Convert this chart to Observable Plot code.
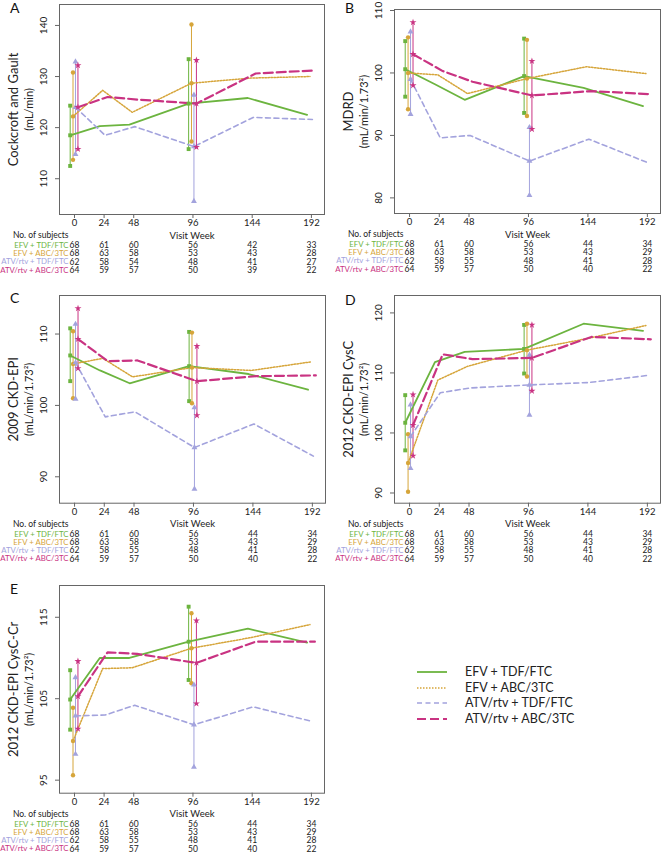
<!DOCTYPE html>
<html><head><meta charset="utf-8">
<script src="https://cdn.jsdelivr.net/npm/d3@7"></script>
<script src="https://cdn.jsdelivr.net/npm/@observablehq/plot@0.6"></script>
<style>
body{margin:0;background:#fff;}
#page{position:relative;width:662px;height:853px;overflow:hidden;font-family:Lato,sans-serif;background:#fff;}
.panel{position:absolute;}
#overlay{position:absolute;left:0;top:0;}
</style></head><body><div id="page"></div>
<script>
// ---- shared ----
const weeks = [0, 24, 48, 96, 144, 192];
const barWeeks = [0, 96];
const groups = ["EFV + TDF/FTC", "EFV + ABC/3TC", "ATV/rtv + TDF/FTC", "ATV/rtv + ABC/3TC"];
const colors = ["#6cb43f", "#d6a53a", "#a3a3dd", "#c93382"];
const jitter = [-3.5, -1.2, 0.8, 2.8];

// ---- Panel A: Cockcroft and Gault ----
const A_mean = [
  [118.5, 120.3, 120.6, 124.7, 125.8, 122.5],
  [122.2, 127.3, 123.0, 128.7, 129.7, 130.0],
  [124.0, 118.5, 120.2, 116.3, 122.0, 121.6],
  [124.0, 126.0, 125.5, 124.7, 130.6, 131.2]];
const A_lo = [[112.5, 115.8], [113.7, 117.3], [114.8, 105.6], [115.8, 116.2]];
const A_hi = [[124.3, 133.4], [130.8, 140.2], [132.9, 126.4], [132.2, 133.2]];
const A_n = [[68, 61, 60, 56, 42, 33], [68, 63, 58, 53, 43, 28], [62, 58, 54, 48, 41, 27], [64, 59, 57, 50, 39, 22]];
const A_yticks = [110, 120, 130, 140];

// ---- Panel B: MDRD ----
const B_mean = [
  [100.6, 98.2, 95.7, 99.5, 97.6, 94.7],
  [100.0, 99.7, 96.7, 99.1, 101.0, 99.9],
  [99.0, 89.6, 90.0, 85.9, 89.4, 85.6],
  [103.0, 100.3, 98.6, 96.4, 97.1, 96.6]];
const B_lo = [[96.2, 93.6], [94.2, 93.1], [93.4, 80.4], [98.0, 91.0]];
const B_hi = [[105.1, 105.5], [105.7, 105.3], [106.6, 91.3], [108.1, 101.9]];
const B_n = [[68, 61, 60, 56, 44, 34], [68, 63, 58, 53, 43, 29], [62, 58, 55, 48, 41, 28], [64, 59, 57, 50, 40, 22]];
const B_yticks = [80, 90, 100, 110];

// ---- Panel C: 2009 CKD-EPI ----
const C_mean = [
  [107.0, 104.9, 103.1, 105.5, 104.4, 102.2],
  [105.8, 106.6, 104.0, 105.3, 104.9, 106.1],
  [106.0, 98.4, 99.1, 94.1, 97.4, 92.9],
  [109.3, 106.2, 106.3, 103.4, 104.1, 104.2]];
const C_lo = [[103.4, 100.6], [101.0, 100.3], [100.9, 88.3], [105.2, 98.6]];
const C_hi = [[110.8, 110.3], [110.4, 110.2], [111.4, 99.7], [113.6, 108.3]];
const C_n = [[68, 61, 60, 56, 44, 34], [68, 63, 58, 53, 43, 29], [62, 58, 55, 48, 41, 28], [64, 59, 57, 50, 40, 22]];
const C_yticks = [90, 100, 110];

// ---- Panel D: 2012 CKD-EPI CysC ----
const D_mean = [
  [101.7, 111.8, 113.5, 114.0, 118.2, 117.0],
  [95.0, 108.8, 111.1, 113.8, 115.7, 117.9],
  [99.4, 106.7, 107.5, 108.0, 108.4, 109.6],
  [101.3, 113.1, 112.3, 112.5, 116.0, 115.6]];
const D_lo = [[97.1, 109.9], [90.2, 109.4], [94.1, 103.0], [96.2, 107.0]];
const D_hi = [[106.3, 118.0], [99.8, 118.2], [104.7, 113.0], [106.4, 118.0]];
const D_n = [[68, 61, 60, 56, 44, 34], [68, 63, 58, 53, 43, 29], [62, 58, 55, 48, 41, 28], [64, 59, 57, 50, 40, 22]];
const D_yticks = [90, 100, 110, 120];

// ---- Panel E: 2012 CKD-EPI CysC-Cr ----
const E_mean = [
  [104.9, 110.0, 110.0, 112.0, 113.6, 111.9],
  [99.8, 108.7, 108.8, 111.2, 112.5, 114.1],
  [102.9, 103.0, 104.2, 101.8, 104.0, 102.2],
  [105.3, 110.7, 110.5, 109.4, 112.0, 112.0]];
const E_lo = [[101.2, 107.3], [95.6, 106.9], [98.2, 96.6], [101.3, 104.4]];
const E_hi = [[108.5, 116.3], [103.9, 115.5], [107.6, 106.7], [109.6, 114.6]];
const E_n = [[68, 61, 60, 56, 44, 34], [68, 63, 58, 53, 43, 29], [62, 58, 55, 48, 41, 28], [64, 59, 57, 50, 40, 22]];
const E_yticks = [95, 105, 115];

const panels = [
  {letter: "A", mean: A_mean, lo: A_lo, hi: A_hi, n: A_n, yticks: A_yticks, ydom: [103.0, 144.1],
   lab1: "Cockcroft and Gault", lab2: "(mL/min)",
   left: 0, top: 0, width: 330, height: 285, mL: 59, mR: 6, mT: 4, mB: 71, lx: 10, ly: 13},
  {letter: "B", mean: B_mean, lo: B_lo, hi: B_hi, n: B_n, yticks: B_yticks, ydom: [77.5, 110.16],
   lab1: "MDRD", lab2: "(mL/min/1.73\u00B2)",
   left: 330, top: 0, width: 332, height: 285, mL: 64, mR: 2, mT: 9, mB: 72, lx: 345, ly: 13},
  {letter: "C", mean: C_mean, lo: C_lo, hi: C_hi, n: C_n, yticks: C_yticks, ydom: [86.3, 115.4],
   lab1: "2009 CKD-EPI", lab2: "(mL/min/1.73\u00B2)",
   left: 0, top: 285, width: 330, height: 290, mL: 59, mR: 5, mT: 10, mB: 72.3, lx: 10, ly: 303},
  {letter: "D", mean: D_mean, lo: D_lo, hi: D_hi, n: D_n, yticks: D_yticks, ydom: [88.3, 122.9],
   lab1: "2012 CKD-EPI CysC", lab2: "(mL/min/1.73\u00B2)",
   left: 330, top: 285, width: 332, height: 290, mL: 64, mR: 2, mT: 10, mB: 72.3, lx: 345, ly: 305},
  {letter: "E", mean: E_mean, lo: E_lo, hi: E_hi, n: E_n, yticks: E_yticks, ydom: [93.4, 118.9],
   lab1: "2012 CKD-EPI CysC-Cr", lab2: "(mL/min/1.73\u00B2)",
   left: 0, top: 575, width: 330, height: 278, mL: 59, mR: 6, mT: 10, mB: 60.3, lx: 10, ly: 594}
];

const lineStyles = [
  {strokeWidth: 1.8},
  {strokeWidth: 1.5, strokeDasharray: "1.5,1.5"},
  {strokeWidth: 1.6, strokeDasharray: "5,3.5"},
  {strokeWidth: 2.2, strokeDasharray: "9,4"}
];
const symbols = ["square", "circle", "triangle", "star"];

const page = document.getElementById("page");

function drawPanel(p) {
  const lineData = p.mean.flatMap((vals, g) => vals.map((v, i) => ({g, x: weeks[i] + jitter[g], y: v})));
  const barData = p.lo.flatMap((vals, g) => vals.map((lo, j) => ({
    g, x: barWeeks[j] + jitter[g], lo, hi: p.hi[g][j], m: p.mean[g][weeks.indexOf(barWeeks[j])]})));
  const markData = barData.flatMap(d => [{g: d.g, x: d.x, y: d.lo}, {g: d.g, x: d.x, y: d.hi}, {g: d.g, x: d.x, y: d.m}]);
  const rowDy = g => 30.8 + 8.3 * g;
  const tx = {lineAnchor: "middle"};
  const marks = [
    Plot.frame({stroke: "#666", strokeWidth: 1}),
    ...groups.map((_, g) => Plot.ruleX(barData.filter(d => d.g === g), {x: "x", y1: "lo", y2: "hi", stroke: colors[g], strokeWidth: 1})),
    ...groups.map((_, g) => Plot.line(lineData.filter(d => d.g === g), {x: "x", y: "y", stroke: colors[g], ...lineStyles[g]})),
    ...groups.map((_, g) => Plot.dot(markData.filter(d => d.g === g), {x: "x", y: "y", symbol: symbols[g], fill: colors[g], stroke: "none", r: 2.2})),
    Plot.axisX({ticks: weeks, tickSize: 4, tickPadding: 1, label: null, fontSize: 9.5, stroke: "#666", color: "#222"}),
    Plot.axisY({ticks: p.yticks, tickSize: 4, tickFormat: () => "", label: null, stroke: "#666"}),
    Plot.text(p.yticks, {y: d => d, text: d => String(d), frameAnchor: "left", dx: -15.5, rotate: -90, textAnchor: "middle", ...tx, fontSize: 10, fill: "#222"}),
    Plot.text([p.lab1], {text: d => d, frameAnchor: "left", dx: -46, rotate: -90, textAnchor: "middle", ...tx, fontSize: 13, fill: "#222"}),
    Plot.text([p.lab2], {text: d => d, frameAnchor: "left", dx: -30, rotate: -90, textAnchor: "middle", ...tx, fontSize: 11, fill: "#222"}),
    Plot.text(["Visit Week"], {text: d => d, frameAnchor: "bottom", dy: 21, textAnchor: "middle", ...tx, fontSize: 9.5, fill: "#222"}),
    Plot.text(["No. of subjects"], {x: () => 0, text: d => d, frameAnchor: "bottom", dy: 21, dx: -6, textAnchor: "end", ...tx, fontSize: 8.5, fill: "#222"}),
    ...groups.map((name, g) => Plot.text([name], {x: () => 0, text: d => d, frameAnchor: "bottom", dy: rowDy(g), dx: -6, textAnchor: "end", ...tx, fontSize: 7.8, fill: colors[g]})),
    ...groups.map((_, g) => Plot.text(p.n[g].map((v, i) => ({x: weeks[i], v})), {x: "x", text: d => String(d.v), frameAnchor: "bottom", dy: rowDy(g), textAnchor: "middle", ...tx, fontSize: 8.5, fill: "#222"}))
  ];
  const chart = Plot.plot({
    width: p.width, height: p.height,
    marginLeft: p.mL, marginRight: p.mR, marginTop: p.mT, marginBottom: p.mB,
    x: {domain: [-12.15, 202.6]},
    y: {domain: p.ydom},
    style: {fontFamily: "Lato, sans-serif", background: "transparent", overflow: "visible", color: "#222"},
    marks
  });
  chart.classList.add("panel");
  chart.style.left = p.left + "px";
  chart.style.top = p.top + "px";
  chart.style.position = "absolute";
  chart.style.maxWidth = "none";
  page.appendChild(chart);
}
panels.forEach(drawPanel);

// overlay: panel letters and legend
const svg = d3.select(page).append("svg").attr("id", "overlay").attr("width", 662).attr("height", 853)
  .style("font-family", "Lato, sans-serif");
svg.selectAll("text.letter").data(panels).join("text").attr("class", "letter")
  .attr("x", d => d.lx).attr("y", d => d.ly).attr("font-size", 14).attr("fill", "#111").text(d => d.letter);
const lg = svg.append("g").attr("transform", "translate(417,672)");
groups.forEach((name, g) => {
  const y = [0, 16, 31, 47][g];
  const st = lineStyles[g];
  lg.append("line").attr("x1", 0).attr("x2", 30).attr("y1", y).attr("y2", y)
    .attr("stroke", colors[g]).attr("stroke-width", st.strokeWidth).attr("stroke-dasharray", st.strokeDasharray || null);
  lg.append("text").attr("x", 48).attr("y", y).attr("dy", "0.35em").attr("font-size", 12.5).attr("fill", "#222").text(name);
});
</script></body></html>
